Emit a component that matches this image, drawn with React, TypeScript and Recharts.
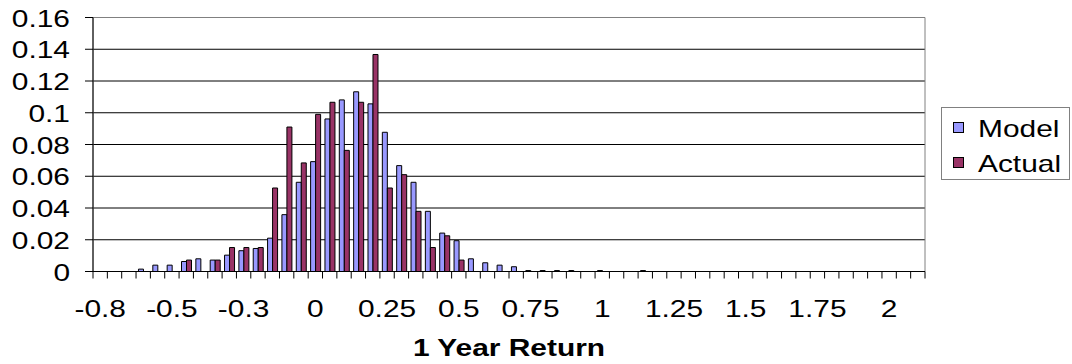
import { Bar, BarChart, CartesianGrid, Legend, ReferenceArea, XAxis, YAxis } from 'recharts'

// bins of 1 year return, step 0.05
const returnBins = [
  -0.75, -0.7, -0.65, -0.6, -0.55, -0.5, -0.45, -0.4, -0.35, -0.3,
  -0.25, -0.2, -0.15, -0.1, -0.05, 0, 0.05, 0.1, 0.15, 0.2,
  0.25, 0.3, 0.35, 0.4, 0.45, 0.5, 0.55, 0.6, 0.65, 0.7,
  0.75, 0.8, 0.85, 0.9, 0.95, 1, 1.05, 1.1, 1.15, 1.2,
  1.25, 1.3, 1.35, 1.4, 1.45, 1.5, 1.55, 1.6, 1.65, 1.7,
  1.75, 1.8, 1.85, 1.9, 1.95, 2, 2.05, 2.1,
]

const modelFreq = [
  0, 0, 0, 0.0015, 0.004, 0.004, 0.0063, 0.008, 0.0072, 0.0103,
  0.0131, 0.0145, 0.021, 0.0358, 0.0562, 0.0692, 0.0961, 0.1081, 0.1132, 0.1056,
  0.0877, 0.0667, 0.0562, 0.0379, 0.0242, 0.0194, 0.008, 0.0055, 0.004, 0.003,
  0.0006, 0.0006, 0.0006, 0.0006, 0, 0.0006, 0, 0, 0.0006, 0,
  0, 0, 0, 0, 0, 0, 0, 0, 0, 0,
  0, 0, 0, 0, 0, 0, 0, 0,
]

const actualFreq = [
  0, 0, 0, 0, 0, 0, 0.0072, 0, 0.0072, 0.0151,
  0.0151, 0.0151, 0.0526, 0.091, 0.0684, 0.099, 0.1066, 0.0763, 0.1066, 0.1367,
  0.0526, 0.061, 0.0379, 0.0151, 0.0225, 0.0072, 0, 0, 0, 0,
  0, 0, 0, 0, 0, 0, 0, 0, 0, 0,
  0, 0, 0, 0, 0, 0, 0, 0, 0, 0,
  0, 0, 0, 0, 0, 0, 0, 0,
]

// shown on every 5th bin
const xTickLabels = ['-0.8', '-0.5', '-0.3', '0', '0.25', '0.5', '0.75', '1', '1.25', '1.5', '1.75', '2']
const yTicks = [0, 0.02, 0.04, 0.06, 0.08, 0.1, 0.12, 0.14, 0.16]
const seriesOrder = ['model', 'actual']

const data = returnBins.map((bin, i) => ({
  bin,
  model: modelFreq[i],
  actual: actualFreq[i],
}))

const FONT = '"Liberation Sans", Arial, sans-serif'
const STRETCH = 1.3
const PLOT_LEFT = 93
const PLOT_RIGHT = 925
const band = (PLOT_RIGHT - PLOT_LEFT) / returnBins.length

function XTick({ x, y, index }: any) {
  const left = x - band / 2
  return (
    <g>
      <line x1={left} x2={left} y1={y} y2={y + 7} stroke="#000" />
      {index === returnBins.length - 1 && (
        <line x1={x + band / 2} x2={x + band / 2} y1={y} y2={y + 7} stroke="#000" />
      )}
      {index % 5 === 0 && (
        <text
          transform={`translate(${x},${y + 45}) scale(${STRETCH},1)`}
          textAnchor="middle"
          fontSize={23}
          fontFamily={FONT}
          fill="#000"
        >
          {xTickLabels[index / 5]}
        </text>
      )}
    </g>
  )
}

function YTick({ x, y, payload }: any) {
  return (
    <text
      transform={`translate(${x},${y + 9}) scale(${STRETCH},1)`}
      textAnchor="end"
      fontSize={23}
      fontFamily={FONT}
      fill="#000"
    >
      {String(payload.value)}
    </text>
  )
}

function AxisTitle({ viewBox }: any) {
  const { x, y, width } = viewBox
  return (
    <text
      transform={`translate(${x + width / 2},${y + 84}) scale(${STRETCH},1)`}
      textAnchor="middle"
      fontSize={23}
      fontWeight="bold"
      fontFamily={FONT}
      fill="#000"
    >
      1 Year Return
    </text>
  )
}

function LegendBox({ payload }: any) {
  const items = [...(payload || [])].sort(
    (a: any, b: any) => seriesOrder.indexOf(a.dataKey) - seriesOrder.indexOf(b.dataKey),
  )
  return (
    <svg width={130} height={74} style={{ display: 'block' }}>
      <rect x={0.5} y={0.5} width={128} height={72} fill="#fff" stroke="#808080" />
      {items.map((entry: any, i: number) => (
        <g key={entry.value}>
          <rect x={12.5} y={15.5 + i * 35} width={10} height={10} fill={entry.color} stroke="#000" />
          <text
            transform={`translate(37,${30 + i * 35}) scale(${STRETCH},1)`}
            fontSize={23}
            fontFamily={FONT}
            fill="#000"
          >
            {entry.value}
          </text>
        </g>
      ))}
    </svg>
  )
}

export default function App() {
  return (
    <div style={{ position: 'absolute', left: 0, top: 0, background: '#fff' }}>
      <BarChart
        width={1072}
        height={364}
        data={data}
        margin={{ top: 17.5, right: 1072 - PLOT_RIGHT, left: 0, bottom: 0 }}
        barCategoryGap="17%"
        barGap={0}
      >
        <CartesianGrid vertical={false} stroke="#000" />
        <ReferenceArea y1={0} y2={0.16} fill="none" stroke="#808080" ifOverflow="visible" />
        <XAxis
          dataKey="bin"
          height={92.5}
          interval={0}
          tickSize={0}
          tickMargin={0}
          tickLine={false}
          stroke="#000"
          tick={<XTick />}
          label={{ content: <AxisTitle /> }}
        />
        <YAxis
          width={PLOT_LEFT}
          domain={[0, 0.16]}
          ticks={yTicks}
          interval={0}
          tickSize={8}
          tickMargin={15}
          stroke="#000"
          tick={<YTick />}
        />
        <Legend
          layout="horizontal"
          verticalAlign="middle"
          align="center"
          wrapperStyle={{ left: 941, top: 107, width: 130, height: 74 }}
          content={<LegendBox />}
        />
        <Bar dataKey="model" name="Model" fill="#9999FF" stroke="#000" strokeWidth={1} isAnimationActive={false} />
        <Bar dataKey="actual" name="Actual" fill="#993366" stroke="#000" strokeWidth={1} isAnimationActive={false} />
      </BarChart>
    </div>
  )
}
